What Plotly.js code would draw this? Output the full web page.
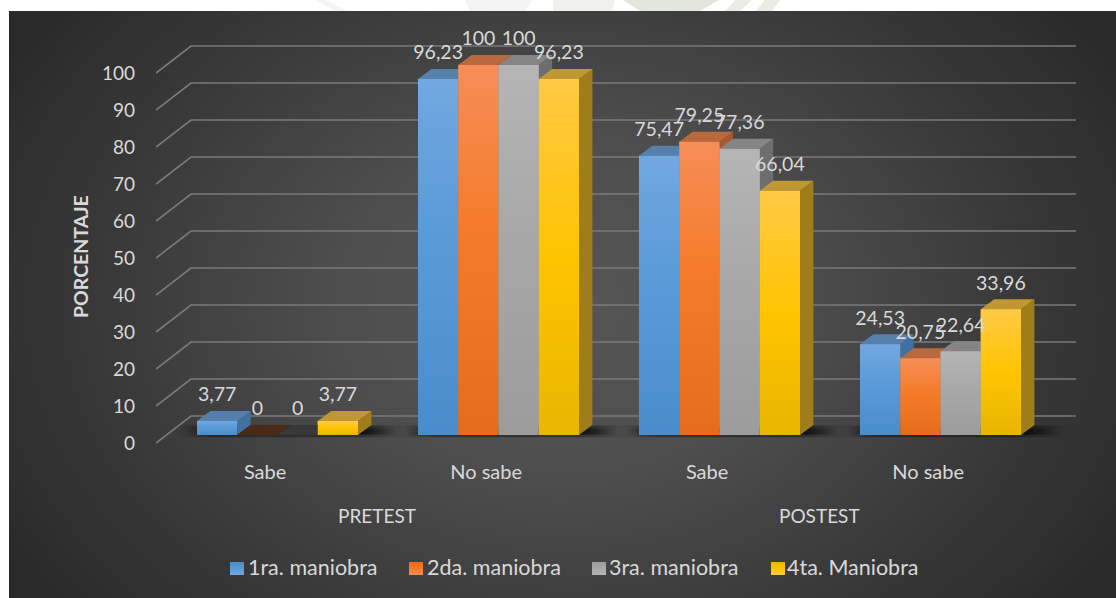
<!DOCTYPE html>
<html><head><meta charset="utf-8">
<script src="https://cdn.plot.ly/plotly-3.0.1.min.js"></script>
<style>
html,body{margin:0;padding:0;background:#fff;width:1116px;height:598px;overflow:hidden}
#bg{position:absolute;left:9px;top:11px;width:1107px;height:587px;
background:radial-gradient(ellipse 560px 420px at 50% 50%,#565656 0%,#4e4e4e 40%,#3a3a3a 80%,#2a2a2a 115%)}
#chart{position:absolute;left:0;top:0;width:1116px;height:598px}
</style></head><body>
<div id="bg"></div><div id="chart"></div>
<script>
const categories = ['Sabe','No sabe','Sabe','No sabe'];
const stages = ['PRETEST','POSTEST'];
const seriesNames = ['1ra. maniobra','2da. maniobra','3ra. maniobra','4ta. Maniobra'];
const maniobra1 = [3.77,96.23,75.47,24.53];
const maniobra2 = [0,100,79.25,20.75];
const maniobra3 = [0,100,77.36,22.64];
const maniobra4 = [3.77,96.23,66.04,33.96];
const labels1 = ['3,77','96,23','75,47','24,53'];
const labels2 = ['0','100','79,25','20,75'];
const labels3 = ['0','100','77,36','22,64'];
const labels4 = ['3,77','96,23','66,04','33,96'];
const yTicks = [0,10,20,30,40,50,60,70,80,90,100];

const allValues=[maniobra1,maniobra2,maniobra3,maniobra4];
const allLabels=[labels1,labels2,labels3,labels4];
const W=1116,H=598;
const L=156,R=1076,T=30,B=456;
const pxX=221, pxY=3.70;
const x0px=277.5, y0px=443;
const xr=[(L-x0px)/pxX,(R-x0px)/pxX];
const yr=[(y0px-B)/pxY,(y0px-T)/pxY];
const xs=[0,1,2,3];
const gap=0.2714, bw=(1-gap)/4;
const baseY=8/pxY;            // bars stand in from the floor's front edge
const dx=13.4/pxX, dy=10/pxY; // bar depth
const wallX=35/pxX, wallY=27/pxY; // wall depth
const TXT='#d9d9d9';
const faces=[
 {front:[[0,'#4a8dcc'],[0.6,'#5b9bd8'],[1,'#72a8e0']],top:'#567fab',side:'#41709e',zero:'#4a5a6a'},
 {front:[[0,'#e66c1a'],[0.55,'#f57b28'],[1,'#f68e58']],top:'#b86a3e',side:'#a65a2e',zero:'#4c2a18'},
 {front:[[0,'#9c9c9c'],[0.55,'#a8a8a8'],[1,'#b5b5b5']],top:'#858585',side:'#6e6e6e',zero:'#383838'},
 {front:[[0,'#e8b600'],[0.5,'#ffc400'],[1,'#ffc945']],top:'#bf9833',side:'#9f7d1b',zero:'#6a5a20'}
];
function poly(x,y,color,extra){
 return Object.assign({type:'scatter',mode:'lines',x:x,y:y,fill:'toself',fillcolor:color,
  line:{width:0},hoverinfo:'skip',showlegend:false},extra||{});
}
const traces=[];
seriesNames.forEach((n,i)=>{
 traces.push({type:'bar',name:n,x:xs,y:allValues[i],base:baseY,
  marker:{color:faces[i].front[1][1],line:{width:0}},
  hoverinfo:'name+y',showlegend:false});
});
yTicks.forEach(g=>{
 traces.push({type:'scatter',mode:'lines',x:[xr[0],xr[0]+wallX,xr[1]],y:[g,g+wallY,g+wallY],
  line:{color:'#7a7a7a',width:1.7},hoverinfo:'skip',showlegend:false});
});
xs.forEach(c=>{
 const l=c-(1-gap)/2, r=c+(1-gap)/2;
 [[-0.1,0.22,-0.6,1.0,0.35],[-0.06,0.18,0,0.85,0.5],[-0.02,0.14,0.3,0.6,0.55]].forEach(s=>{
  traces.push(poly([l+s[0],r+s[1],r+s[1],l+s[0],l+s[0]],
   [baseY+s[2],baseY+s[2],baseY+dy*s[3],baseY+dy*s[3],baseY+s[2]],'rgba(0,0,0,0.3)',
   {fillcolor:undefined,fillgradient:{type:'horizontal',colorscale:[[0,'rgba(0,0,0,0)'],[0.18,'rgba(0,0,0,'+s[4]+')'],[0.8,'rgba(0,0,0,'+s[4]+')'],[1,'rgba(0,0,0,0)']]}}));
 });
});
xs.forEach((c,k)=>{
 allValues.forEach((vals,i)=>{
  const v=vals[k], a=c-(1-gap)/2+bw*i, b=a+bw, bot=baseY, top=baseY+v;
  const f=faces[i];
  if(v===0){
   traces.push(poly([a,b,b+dx,a+dx,a],[bot,bot,bot+dy,bot+dy,bot],f.zero));
   return;
  }
  traces.push(poly([b,b+dx,b+dx,b,b],[bot,bot+dy,top+dy,top,bot],f.side));
  traces.push(poly([a,b,b+dx,a+dx,a],[top,top,top+dy,top+dy,top],f.top));
  traces.push(poly([a,b,b,a,a],[bot,bot,top,top,bot],f.side,
   {fillcolor:undefined,fillgradient:{type:'vertical',colorscale:f.front}}));
 });
});
allValues.forEach((vals,i)=>{
 traces.push({type:'scatter',mode:'text',cliponaxis:false,
  x:xs.map(c=>c-(1-gap)/2+bw*(i+0.5)),
  y:vals.map(v=>v+baseY+24.5/pxY),
  text:allLabels[i],textposition:'middle center',
  textfont:{family:'Lato',size:19.5,color:TXT},
  hoverinfo:'skip',showlegend:false});
});
// legend and page decoration, on a full-figure pixel subplot
const onPage={xaxis:'x2',yaxis:'y2'};
const legendSwatchX=[230,409,592,771];
const legendTextX=[248,427,609,787];
seriesNames.forEach((n,i)=>{
 const s=legendSwatchX[i];
 const flipped=faces[i].front.map(p=>[1-p[0],p[1]]).reverse();
 traces.push(poly([s,s+14,s+14,s,s],[575,575,562,562,575],faces[i].front[1][1],
  Object.assign({fillcolor:undefined,fillgradient:{type:'vertical',colorscale:flipped}},onPage)));
});
traces.push(Object.assign({type:'scatter',mode:'text',x:legendTextX,y:[570,570,570,570],text:seriesNames,
 textposition:'middle right',textfont:{family:'Lato',size:21.5,color:TXT},hoverinfo:'skip',showlegend:false},onPage));
[[[316,326,347,335],'#f3f5f2'],[[465,532,526,470],'#f2f5f3'],[[553,615,612,553],'#eef1ec'],[[623,719,700,640],'#e2e7dd'],[[735,752,740,725],'#e9ede6'],[[765,780,772,756],'#e9ede6']]
 .forEach(w=>{
  traces.push(poly([w[0][0],w[0][1],w[0][2],w[0][3],w[0][0]],[0,0,11,11,0],w[1],onPage));
 });
const layout={
 width:W,height:H,autosize:false,
 paper_bgcolor:'rgba(0,0,0,0)',plot_bgcolor:'rgba(0,0,0,0)',
 margin:{l:0,r:0,t:0,b:0,pad:0},
 barmode:'group',bargap:gap,bargroupgap:0,
 font:{family:'Lato',color:TXT,size:19},
 showlegend:false,
 xaxis:{domain:[L/W,R/W],range:xr,showgrid:false,zeroline:false,showline:false,ticks:'',
  tickmode:'array',tickvals:xs.map(c=>c-dx+1/pxX),ticktext:categories,
  tickfont:{family:'Lato',size:20,color:TXT},ticklabelstandoff:2},
 yaxis:{domain:[1-B/H,1-T/H],range:yr,showgrid:false,zeroline:false,showline:false,ticks:'',
  tickmode:'array',tickvals:yTicks,ticktext:yTicks.map(String),
  tickfont:{family:'Lato',size:19,color:TXT},ticklabelstandoff:20},
 xaxis2:{domain:[0,1],range:[0,W],visible:false,anchor:'y2',fixedrange:true},
 yaxis2:{domain:[0,1],range:[H,0],visible:false,anchor:'x2',fixedrange:true},
 annotations:[
  {text:stages[0],xref:'x2',yref:'y2',x:377,y:515,showarrow:false,font:{family:'Lato',size:19,color:TXT}},
  {text:stages[1],xref:'x2',yref:'y2',x:819,y:515,showarrow:false,font:{family:'Lato',size:19,color:TXT}},
  {text:'<b>PORCENTAJE</b>',xref:'x2',yref:'y2',x:80,y:257,textangle:-90,showarrow:false,font:{family:'Lato',size:19.5,color:TXT}}
 ]
};
Plotly.newPlot('chart',traces,layout,{displayModeBar:false,responsive:false});
</script></body></html>
